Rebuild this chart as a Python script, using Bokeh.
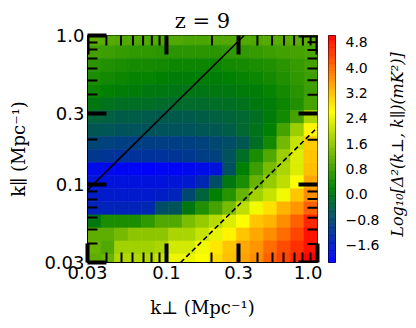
import math
from bokeh.plotting import figure
from bokeh.layouts import row
from bokeh.models import (Range1d, FixedTicker, CustomJSTickFormatter, LinearColorMapper,
                          Label, ColumnDataSource)
from bokeh.transform import transform
from bokeh.embed import file_html
from bokeh.resources import INLINE

# ---------------- data ----------------
# k_perp bin edges (Mpc^-1), left -> right
kperp_edges = [0.0300, 0.03687, 0.04531, 0.05569, 0.06845, 0.08413, 0.1034, 0.1271, 0.1562,
               0.1920, 0.2360, 0.2901, 0.3565, 0.4382, 0.5386, 0.6621, 0.8138, 1.0]
# k_par bin edges (Mpc^-1), top -> bottom
kpar_edges = [1.0513, 0.8590, 0.7023, 0.5741, 0.4694, 0.3837, 0.3137, 0.2564, 0.2097, 0.1714,
              0.1401, 0.1146, 0.09365, 0.07656, 0.06259, 0.05117, 0.04182, 0.03420, 0.02795]

# log10 Delta^2 (mK^2), rows top (high k_par) -> bottom, columns low -> high k_perp
log_power = [
    [1.10, 1.05, 1.00, 1.00, 1.00, 1.00, 1.00, 0.95, 0.95, 1.00, 1.00, 1.00, 1.00, 1.05, 1.05, 1.10, 1.10],
    [0.85, 0.80, 0.75, 0.70, 0.70, 0.65, 0.65, 0.65, 0.65, 0.65, 0.70, 0.70, 0.75, 0.80, 0.85, 0.90, 0.95],
    [0.65, 0.55, 0.50, 0.45, 0.45, 0.40, 0.35, 0.35, 0.35, 0.35, 0.40, 0.45, 0.50, 0.55, 0.65, 0.75, 0.85],
    [0.50, 0.40, 0.35, 0.30, 0.30, 0.25, 0.20, 0.20, 0.20, 0.20, 0.25, 0.30, 0.35, 0.45, 0.55, 0.70, 0.80],
    [0.35, 0.25, 0.20, 0.15, 0.10, 0.10, 0.05, 0.05, 0.05, 0.10, 0.10, 0.15, 0.20, 0.30, 0.45, 0.60, 0.80],
    [0.10, 0.00, -0.05, -0.10, -0.10, -0.15, -0.15, -0.15, -0.15, -0.10, -0.05, 0.00, 0.10, 0.20, 0.35, 0.55, 0.90],
    [-0.30, -0.35, -0.40, -0.40, -0.45, -0.45, -0.45, -0.45, -0.40, -0.35, -0.30, -0.20, -0.05, 0.15, 0.40, 0.90, 1.80],
    [-0.50, -0.55, -0.60, -0.60, -0.60, -0.60, -0.60, -0.60, -0.55, -0.50, -0.40, -0.20, 0.00, 0.25, 0.90, 1.70, 2.70],
    [-0.85, -0.90, -0.95, -0.95, -1.00, -1.00, -1.00, -0.95, -0.90, -0.80, -0.70, -0.50, -0.10, 0.40, 1.30, 2.10, 3.10],
    [-1.10, -1.15, -1.20, -1.20, -1.20, -1.20, -1.15, -1.10, -1.00, -0.90, -0.60, -0.10, 0.50, 1.00, 1.70, 2.30, 3.15],
    [-1.95, -2.00, -2.05, -2.05, -2.10, -2.05, -2.05, -2.00, -1.90, -1.80, -0.65, 0.24, 0.80, 1.36, 1.85, 2.30, 3.20],
    [-1.75, -1.80, -1.80, -1.80, -1.80, -1.80, -1.75, -1.70, -1.40, -0.70, 0.10, 0.50, 1.20, 1.65, 2.00, 2.60, 3.45],
    [-1.60, -1.65, -1.65, -1.65, -1.65, -1.60, -1.50, -0.80, -0.30, 0.24, 0.60, 1.20, 1.75, 2.10, 2.50, 3.15, 3.70],
    [-1.50, -1.50, -1.50, -1.50, -1.40, -0.70, -0.60, 0.10, 0.55, 0.90, 1.36, 2.00, 2.50, 2.90, 3.33, 3.60, 4.10],
    [0.10, 0.50, 0.50, 0.50, 0.70, 1.00, 1.00, 1.40, 1.65, 1.95, 2.30, 2.65, 3.15, 3.33, 3.70, 4.10, 4.65],
    [1.10, 1.10, 1.35, 1.55, 1.55, 1.55, 1.85, 1.85, 2.10, 2.40, 2.75, 3.15, 3.45, 3.70, 4.00, 4.35, 4.85],
    [1.20, 1.00, 1.75, 1.75, 1.75, 1.85, 2.20, 2.20, 2.50, 2.85, 3.15, 3.45, 3.60, 4.00, 4.30, 4.55, 4.85],
    [1.10, 1.20, 1.90, 1.90, 1.90, 2.10, 2.45, 2.45, 2.60, 2.95, 3.20, 3.50, 3.70, 4.10, 4.35, 4.65, 5.00],
]

cbar_low, cbar_high = -2.15, 5.02
cbar_ticks = [-1.6, -0.8, 0.0, 0.8, 1.6, 2.4, 3.2, 4.0, 4.8]

axis_ticks = [0.03, 0.1, 0.3, 1.0]
axis_tick_labels = ["0.03", "0.1", "0.3", "1.0"]
axis_minor_ticks = [0.04, 0.05, 0.06, 0.07, 0.08, 0.09, 0.2, 0.4, 0.5, 0.6, 0.7, 0.8, 0.9]

wedge_slope = 3.06      # solid line: k_par = 3.06 k_perp
horizon_slope = 0.242   # dashed line: k_par = 0.242 k_perp

title_text = "z = 9"
xlabel_text = "k\u22a5 (Mpc\u207b\u00b9)"
ylabel_text = "k\u2225 (Mpc\u207b\u00b9)"
cbar_label_text = "Log\u2081\u2080[\u0394\u00b2(k\u22a5, k\u2225)(mK\u00b2)]"

# ---------------- palette: blue -> green -> yellow -> red ----------------
anchors = [(0, 0, 255), (0, 128, 0), (255, 255, 0), (255, 0, 0)]
palette = []
N = 256
for i in range(N):
    f = i / (N - 1) * (len(anchors) - 1)
    j = min(int(f), len(anchors) - 2)
    t = f - j
    c = [round(anchors[j][k] + (anchors[j + 1][k] - anchors[j][k]) * t) for k in range(3)]
    palette.append("#%02x%02x%02x" % tuple(c))

mapper = LinearColorMapper(palette=palette, low=cbar_low, high=cbar_high)

serif = "DejaVu Serif"
TOP, BOTTOM, H = 35, 53, 320
MAJ_LEN, MIN_LEN, MAJ_W, MIN_W = 19, 10, 4, 2

# ---------------- main heat map ----------------
left, right, top, bottom, val = [], [], [], [], []
for r, rowvals in enumerate(log_power):
    for c, v in enumerate(rowvals):
        left.append(kperp_edges[c]); right.append(kperp_edges[c + 1])
        top.append(kpar_edges[r]); bottom.append(kpar_edges[r + 1])
        val.append(v)
src = ColumnDataSource(dict(left=left, right=right, top=top, bottom=bottom, val=val))

p = figure(width=322, height=H, x_axis_type="log", y_axis_type="log",
           x_range=Range1d(axis_ticks[0], axis_ticks[-1]),
           y_range=Range1d(axis_ticks[0], axis_ticks[-1]),
           output_backend="svg", toolbar_location=None,
           min_border_left=87, min_border_right=5, min_border_top=TOP, min_border_bottom=BOTTOM)
p.grid.visible = False
p.outline_line_color = "black"
p.outline_line_width = 1

p.title.text = title_text
p.title.align = "center"
p.title.text_font = serif
p.title.text_font_size = "21px"
p.title.text_font_style = "normal"
p.title.text_color = "black"
p.title.standoff = 6

p.quad(left="left", right="right", top="top", bottom="bottom", source=src,
       fill_color=transform("val", mapper), line_color=transform("val", mapper), line_width=0.6)

x0, x1 = axis_ticks[0], axis_ticks[-1]
p.line([x0, x1 / wedge_slope], [x0 * wedge_slope, x1], line_color="black", line_width=1.6)
p.line([x0 / horizon_slope, x1], [x0, x1 * horizon_slope], line_color="black", line_width=1.6,
       line_dash="5 3")

# inward ticks on the top and right edges (dash markers centred on the edge, clipped by the frame)
edge = axis_ticks[-1]
p.scatter(x=axis_ticks, y=[edge] * len(axis_ticks), marker="dash", size=2 * MAJ_LEN,
          angle=math.pi / 2, line_color="black", line_width=MAJ_W)
p.scatter(x=axis_minor_ticks, y=[edge] * len(axis_minor_ticks), marker="dash", size=2 * MIN_LEN,
          angle=math.pi / 2, line_color="black", line_width=MIN_W)
p.scatter(x=[edge] * len(axis_ticks), y=axis_ticks, marker="dash", size=2 * MAJ_LEN,
          angle=0, line_color="black", line_width=MAJ_W)
p.scatter(x=[edge] * len(axis_minor_ticks), y=axis_minor_ticks, marker="dash", size=2 * MIN_LEN,
          angle=0, line_color="black", line_width=MIN_W)

fmt_code = """
for (let i = 0; i < tvals.length; i++) {
  if (Math.abs(tvals[i] - tick) < 1e-9) return tlabels[i];
}
return "";
"""

for ax in (p.xaxis[0], p.yaxis[0]):
    ax.ticker = FixedTicker(ticks=axis_ticks, minor_ticks=axis_minor_ticks)
    ax.formatter = CustomJSTickFormatter(args=dict(tvals=axis_ticks, tlabels=axis_tick_labels), code=fmt_code)
    ax.major_tick_in = MAJ_LEN
    ax.major_tick_out = 0
    ax.major_tick_line_width = MAJ_W
    ax.major_tick_line_color = "black"
    ax.minor_tick_in = MIN_LEN
    ax.minor_tick_out = 0
    ax.minor_tick_line_width = MIN_W
    ax.minor_tick_line_color = "black"
    ax.axis_line_color = "black"
    ax.major_label_text_font = "DejaVu Sans"
    ax.major_label_text_color = "black"
    ax.major_label_text_font_size = "18px"
    ax.major_label_standoff = 3
    ax.axis_label_text_font = serif
    ax.axis_label_text_font_size = "18px"
    ax.axis_label_text_font_style = "normal"
    ax.axis_label_text_color = "black"
p.xaxis[0].axis_label = xlabel_text
p.yaxis[0].axis_label = ylabel_text
p.xaxis[0].axis_label_standoff = 15
p.yaxis[0].axis_label_standoff = 12

# ---------------- colour bar ----------------
nseg = len(palette)
seg_edges = [cbar_low + (cbar_high - cbar_low) * i / nseg for i in range(nseg + 1)]
cb = figure(width=60, height=H, x_range=Range1d(0, 1), y_range=Range1d(cbar_low, cbar_high),
            x_axis_type=None, y_axis_location="right", output_backend="svg", toolbar_location=None,
            min_border_left=6, min_border_right=41, min_border_top=TOP, min_border_bottom=BOTTOM)
cb.grid.visible = False
cb.outline_line_color = "black"
cb.outline_line_width = 1
cb.quad(left=0, right=1, bottom=seg_edges[:-1], top=seg_edges[1:],
        fill_color=palette, line_color=palette, line_width=0.5)
cya = cb.yaxis[0]
cya.ticker = FixedTicker(ticks=cbar_ticks)
cya.formatter = CustomJSTickFormatter(code="return tick.toFixed(1).replace('-', '\\u2212');")
cya.major_tick_line_color = None
cya.minor_tick_line_color = None
cya.axis_line_color = None
cya.major_label_text_font = "DejaVu Sans"
cya.major_label_text_font_size = "14px"
cya.major_label_text_color = "black"
cya.major_label_standoff = 4

# ---------------- colour-bar label ----------------
lf = figure(width=26, height=H, x_axis_type=None, y_axis_type=None,
            output_backend="svg", toolbar_location=None,
            min_border_left=0, min_border_right=0, min_border_top=TOP, min_border_bottom=BOTTOM)
lf.outline_line_color = None
lf.add_layout(Label(x=15, y=118, x_units="screen", y_units="screen", text=cbar_label_text,
                    text_align="center", text_baseline="middle", text_font=serif,
                    text_font_size="16px", text_font_style="italic", text_color="black",
                    angle=math.pi / 2))

layout = row(p, cb, lf)
open("out.html", "w").write(file_html(layout, INLINE))
